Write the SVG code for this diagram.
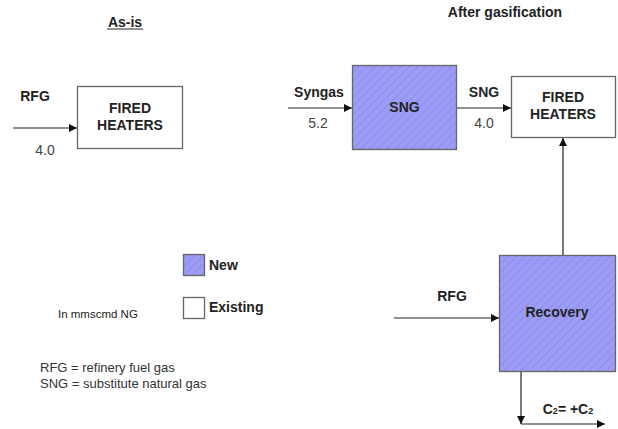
<svg xmlns="http://www.w3.org/2000/svg" width="618" height="429" viewBox="0 0 618 429">
<style>
text{font-family:"Liberation Sans",Arial,sans-serif;fill:#222}
.b{font-weight:bold;font-size:14px}
.n{font-size:14px;fill:#444}
.c{text-anchor:middle}
.box{stroke:#666;stroke-width:1.3}
.new{fill:url(#hatch)}
.ex{fill:#fff}
.ln{stroke:#222;stroke-width:1.2;fill:none}
.lg{font-size:13px;fill:#333}
</style>
<defs>
<pattern id="hatch" patternUnits="userSpaceOnUse" width="6" height="6" patternTransform="rotate(45)">
<rect width="6" height="6" fill="#9c9cf8"/>
<line x1="0" y1="0" x2="0" y2="6" stroke="#8c8ce0" stroke-width="1.8"/>
</pattern>
<marker id="ah" viewBox="0 0 10 10" refX="10" refY="5" markerWidth="12" markerHeight="8" markerUnits="userSpaceOnUse" orient="auto">
<path d="M0,0 L10,5 L0,10 z" fill="#111"/>
</marker>
</defs>
<rect width="618" height="429" fill="#fff"/>
<text class="b c" x="125" y="27">As-is</text>
<line x1="107" y1="29" x2="143" y2="29" stroke="#222" stroke-width="1"/>
<text class="b c" x="505" y="17">After gasification</text>

<g id="connectors">
<line class="ln" x1="13" y1="128" x2="77" y2="128" marker-end="url(#ah)"/>
<line class="ln" x1="288" y1="108" x2="352" y2="108" marker-end="url(#ah)"/>
<line class="ln" x1="457" y1="108" x2="511" y2="108" marker-end="url(#ah)"/>
<line class="ln" x1="563" y1="255" x2="563" y2="138" marker-end="url(#ah)"/>
<line class="ln" x1="394" y1="318" x2="499" y2="318" marker-end="url(#ah)"/>
<line class="ln" x1="521" y1="372" x2="521" y2="424" marker-end="url(#ah)"/>
<line class="ln" x1="521" y1="424" x2="605" y2="424" marker-end="url(#ah)"/>
<text class="b c" x="35" y="101">RFG</text>
<text class="n c" x="45" y="155">4.0</text>
<text class="b c" x="319" y="97">Syngas</text>
<text class="n c" x="318" y="128">5.2</text>
<text class="b c" x="484" y="97">SNG</text>
<text class="n c" x="484" y="128">4.0</text>
<text class="b c" x="452" y="301">RFG</text>
<text class="b c" x="568" y="414">C<tspan font-size="9">2</tspan>= +C<tspan font-size="9">2</tspan></text>
</g>

<g id="fired-heaters-asis">
<rect class="box ex" x="77.5" y="86.5" width="105" height="62"/>
<text class="b c" x="130" y="113">FIRED</text>
<text class="b c" x="130" y="130">HEATERS</text>
</g>
<g id="sng">
<rect class="box new" x="352.5" y="65.5" width="104" height="84"/>
<text class="b c" x="404.5" y="112">SNG</text>
</g>
<g id="fired-heaters-after">
<rect class="box ex" x="511.5" y="76.5" width="104" height="61"/>
<text class="b c" x="563" y="102">FIRED</text>
<text class="b c" x="563" y="119">HEATERS</text>
</g>
<g id="recovery">
<rect class="box new" x="499.5" y="255.5" width="116" height="116"/>
<text class="b c" x="557" y="317">Recovery</text>
</g>

<g id="legend">
<rect class="box new" x="183.5" y="254.5" width="21" height="21"/>
<text class="b" x="209" y="270">New</text>
<rect class="box ex" x="183.5" y="297.5" width="21" height="21"/>
<text class="b" x="209" y="312">Existing</text>
<text x="58" y="318" font-size="11.5" fill="#333">In mmscmd NG</text>
<text class="lg" x="40" y="372">RFG = refinery fuel gas</text>
<text class="lg" x="40" y="388">SNG = substitute natural gas</text>
</g>
</svg>
